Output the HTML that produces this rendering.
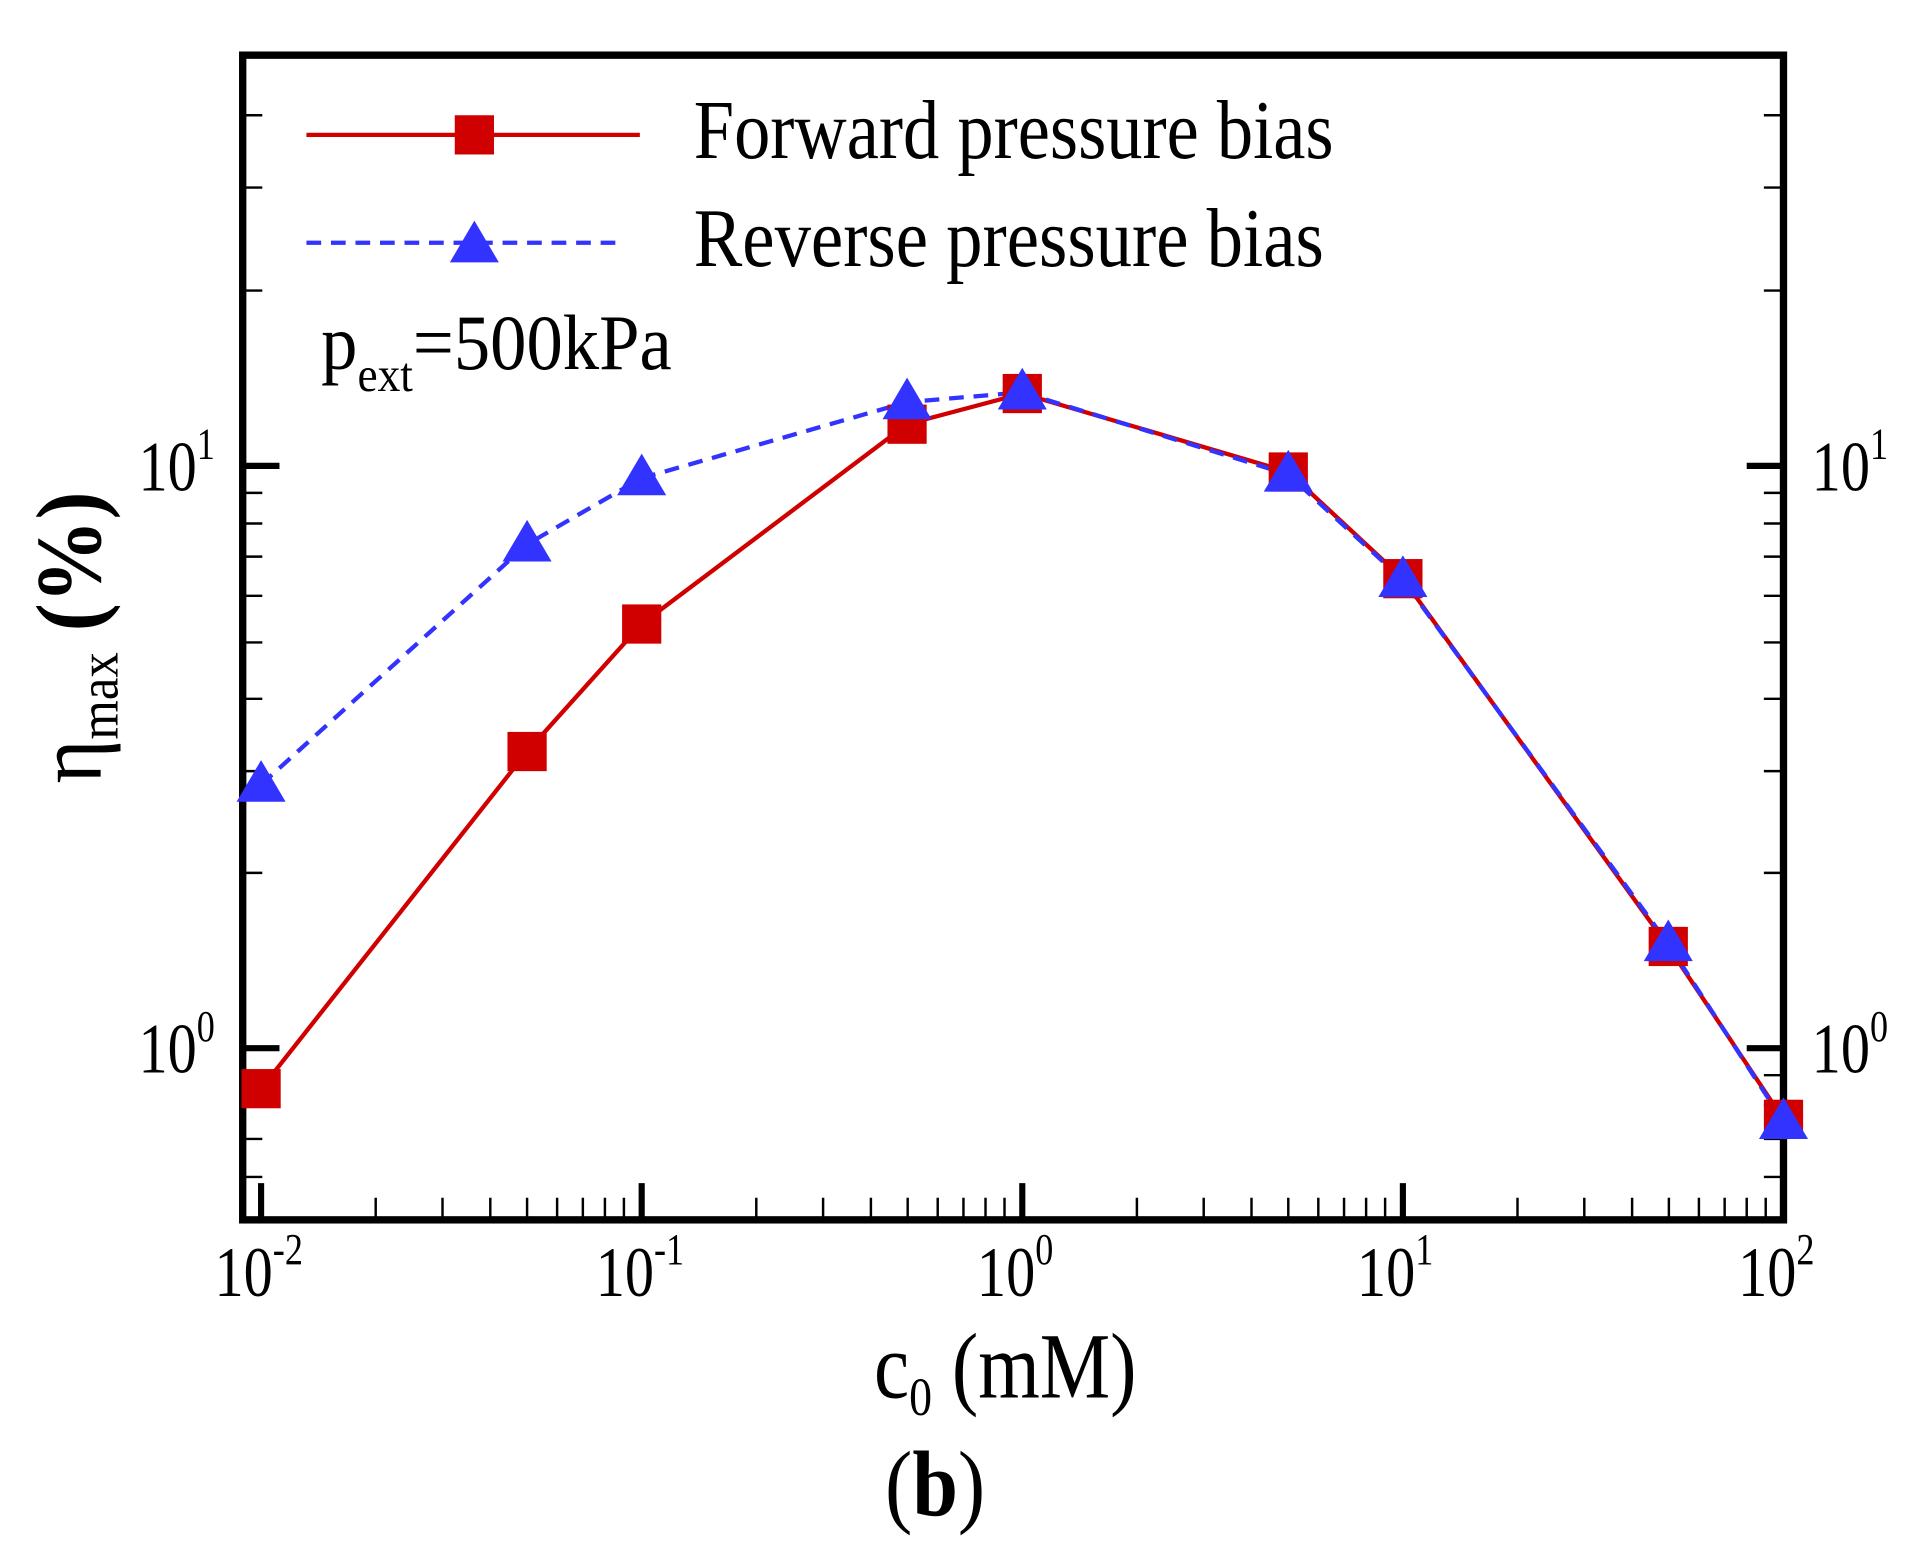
<!DOCTYPE html>
<html><head><meta charset="utf-8"><style>html,body{margin:0;padding:0;background:#fff}svg{display:block}</style></head>
<body>
<svg width="1922" height="1557" viewBox="0 0 1568 1270" preserveAspectRatio="none" xmlns="http://www.w3.org/2000/svg" font-family="Liberation Serif, serif">
<rect width="1568" height="1270" fill="#fff"/>
<g stroke="#000" stroke-linecap="butt">
<g stroke-width="2">
<path d="M198 960H214M198 929H214M198 901H214M198 877H214
M198 712H214M198 629H214M198 570H214M198 524H214M198 486H214M198 454H214M198 427H214M198 402H214
M198 237H214M198 153H214M198 94H214
M1455 960H1439M1455 929H1439M1455 901H1439M1455 877H1439
M1455 712H1439M1455 629H1439M1455 570H1439M1455 524H1439M1455 486H1439M1455 454H1439M1455 427H1439M1455 402H1439
M1455 237H1439M1455 153H1439M1455 94H1439"/>
<path id="xm" d="M306.5 995V977M361 995V977M400 995V977M430 995V977M454.5 995V977M475.5 995V977M493.5 995V977M509 995V977"/>
<use href="#xm" x="310.5"/><use href="#xm" x="621"/><use href="#xm" x="931.5"/>
</g>
<g stroke-width="5">
<path d="M198 380H228M198 855H228M1455 380H1425M1455 855H1425
M213 995V965M523.5 995V965M834 995V965M1144.5 995V965"/>
</g>
<rect x="198" y="45" width="1257" height="950" fill="none" stroke-width="6"/>
</g>
<polyline fill="none" stroke="#d00000" stroke-width="3.5" points="213,888 430,613 523.5,509 740,346 834,321 1051,385 1144.5,472 1361,772 1455,913"/>
<polyline fill="none" stroke="#3333ff" stroke-width="3.5" stroke-dasharray="12,8" points="213,640 430,444 523.5,390 740,328 834,320 1051,387 1144.5,473 1361,770 1455,915"/>
<g fill="#d00000">
<rect x="197" y="872" width="32" height="32"/><rect x="414" y="597" width="32" height="32"/><rect x="507.5" y="493" width="32" height="32"/><rect x="724" y="330" width="32" height="32"/><rect x="818" y="305" width="32" height="32"/><rect x="1035" y="369" width="32" height="32"/><rect x="1128.5" y="456" width="32" height="32"/><rect x="1345" y="756" width="32" height="32"/><rect x="1439" y="897" width="32" height="32"/>
<rect x="371" y="94" width="32" height="32"/>
</g>
<path fill="none" stroke="#d00000" stroke-width="3.5" d="M250 110H522"/>
<path fill="none" stroke="#3333ff" stroke-width="3.5" stroke-dasharray="12,8" d="M250 198H510"/>
<g fill="#3333ff">
<path d="M0 -20L20 14H-20Z" transform="translate(213,640)"/>
<path d="M0 -20L20 14H-20Z" transform="translate(430,444)"/>
<path d="M0 -20L20 14H-20Z" transform="translate(523.5,390)"/>
<path d="M0 -20L20 14H-20Z" transform="translate(740,328)"/>
<path d="M0 -20L20 14H-20Z" transform="translate(834,320)"/>
<path d="M0 -20L20 14H-20Z" transform="translate(1051,387)"/>
<path d="M0 -20L20 14H-20Z" transform="translate(1144.5,473)"/>
<path d="M0 -20L20 14H-20Z" transform="translate(1361,770)"/>
<path d="M0 -20L20 14H-20Z" transform="translate(1455,915)"/>
<path d="M0 -20L20 14H-20Z" transform="translate(387,200)"/>
</g>
<text x="566" y="129" font-size="68" textLength="522" lengthAdjust="spacingAndGlyphs">Forward pressure bias</text>
<text x="566" y="217" font-size="68" textLength="514" lengthAdjust="spacingAndGlyphs">Reverse pressure bias</text>
<text x="262" y="301" font-size="64" textLength="286" lengthAdjust="spacingAndGlyphs">p<tspan font-size="40" dy="18">ext</tspan><tspan dy="-18">=500kPa</tspan></text>
<g font-size="58">
<text transform="translate(113,400) scale(0.82,1)">10<tspan font-size="36" dy="-26">1</tspan></text>
<text transform="translate(113,875) scale(0.82,1)">10<tspan font-size="36" dy="-26">0</tspan></text>
<text transform="translate(1478,400) scale(0.82,1)">10<tspan font-size="36" dy="-26">1</tspan></text>
<text transform="translate(1478,875) scale(0.82,1)">10<tspan font-size="36" dy="-26">0</tspan></text>
<text transform="translate(175,1057) scale(0.82,1)">10<tspan font-size="36" dy="-26">-2</tspan></text>
<text transform="translate(486,1057) scale(0.82,1)">10<tspan font-size="36" dy="-26">-1</tspan></text>
<text transform="translate(797,1057) scale(0.82,1)">10<tspan font-size="36" dy="-26">0</tspan></text>
<text transform="translate(1107,1057) scale(0.82,1)">10<tspan font-size="36" dy="-26">1</tspan></text>
<text transform="translate(1418,1057) scale(0.82,1)">10<tspan font-size="36" dy="-26">2</tspan></text>
</g>
<text transform="translate(713,1140) scale(0.85,1)" font-size="76">c<tspan font-size="44" dy="14">0</tspan><tspan dy="-14"> (mM)</tspan></text>
<text transform="translate(722,1236) scale(0.88,1)" font-size="76">(<tspan font-weight="bold">b</tspan>)</text>
<text transform="translate(82,520) rotate(-90) scale(0.9,1)" text-anchor="middle" font-size="76">η<tspan font-size="46" dy="14">max</tspan><tspan dy="-14" font-weight="bold"> (%)</tspan></text>
</svg>
</body></html>
